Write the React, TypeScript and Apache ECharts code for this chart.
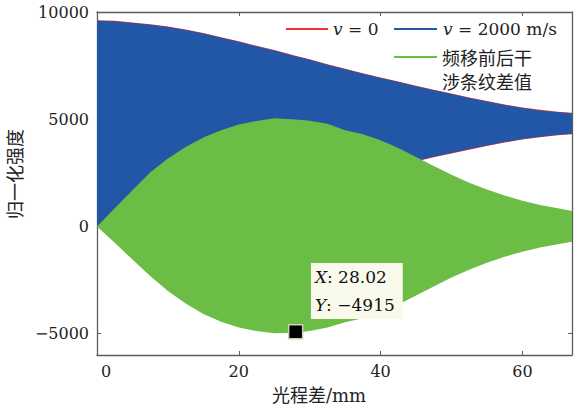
import React, { useEffect, useRef } from "react";
import * as echarts from "echarts";

// Optical path difference samples (mm)
const opd = [0, 2.5, 5, 7.5, 10, 12.5, 15, 17.5, 20, 22.5, 25, 28, 30, 32.5, 35, 37.5, 40, 42.5, 45, 47.5, 50, 52.5, 55, 57.5, 60, 62.5, 65, 67];

// Fringe envelopes, v = 0
const redUpper = [9619, 9595, 9515, 9425, 9325, 9185, 9025, 8825, 8635, 8425, 8225, 7965, 7795, 7565, 7355, 7145, 6945, 6755, 6565, 6375, 6195, 6015, 5845, 5685, 5545, 5435, 5345, 5300];
const redLower = [0, -1, 79, 169, 269, 409, 569, 769, 959, 1169, 1369, 1629, 1799, 2029, 2239, 2449, 2649, 2839, 3029, 3219, 3399, 3579, 3749, 3909, 4049, 4159, 4249, 4294];

// Fringe envelopes, v = 2000 m/s
const blueUpper = [9594, 9570, 9490, 9400, 9300, 9160, 9000, 8800, 8610, 8400, 8200, 7940, 7770, 7540, 7330, 7120, 6920, 6730, 6540, 6350, 6170, 5990, 5820, 5660, 5520, 5410, 5320, 5275];
const blueLower = [0, 24, 104, 194, 294, 434, 594, 794, 984, 1194, 1394, 1654, 1824, 2054, 2264, 2474, 2674, 2864, 3054, 3244, 3424, 3604, 3774, 3934, 4074, 4184, 4274, 4319];

// Envelope of the fringe difference before / after the frequency shift
const diffUpper = [0, 845, 1680, 2510, 3170, 3700, 4140, 4480, 4750, 4920, 5040, 4990, 4930, 4790, 4480, 4300, 4020, 3660, 3240, 2820, 2410, 2040, 1720, 1440, 1200, 1000, 840, 720];
const diffLower = [0, -761, -1550, -2320, -3010, -3600, -4090, -4450, -4720, -4880, -4980, -4960, -4880, -4720, -4470, -4280, -4000, -3640, -3220, -2800, -2390, -2020, -1700, -1420, -1180, -990, -830, -718];

// Data tip
const tipPoint = [28.02, -4915];

const xTicks = [0, 20, 40, 60];
const yTicks = [-5000, 0, 5000, 10000];

const RED = "#ee3030";
const BLUE = "#2256a6";
const GREEN = "#6cbd45";
const AXIS = "#5c5c5c";
const INK = "#222";
const SERIF = "'DejaVu Serif', 'Noto Sans CJK SC', serif";
const CJK = "'Noto Sans CJK SC', sans-serif";

// Filled band between a lower and an upper envelope, drawn as one polygon
function band(name: string, color: string, upper: number[], lower: number[], z: number) {
  return {
    type: "custom",
    name,
    silent: true,
    clip: true,
    z,
    data: opd.map((x, i) => [x, lower[i], upper[i]]),
    encode: { x: 0, y: [1, 2] },
    renderItem: (params: any, api: any) => {
      if (params.dataIndex !== 0) return null;
      const n = params.dataInsideLength;
      const top: number[][] = [];
      const bottom: number[][] = [];
      for (let j = 0; j < n; j++) {
        const x = api.value(0, j);
        top.push(api.coord([x, api.value(2, j)]));
        bottom.push(api.coord([x, api.value(1, j)]));
      }
      return {
        type: "polygon",
        shape: { points: top.concat(bottom.reverse()) },
        style: { fill: color },
      };
    },
  };
}

export default function App() {
  const ref = useRef<HTMLDivElement>(null);

  useEffect(() => {
    if (!ref.current) return;
    const chart = echarts.init(ref.current, undefined, { renderer: "svg" });

    const axisLine = { show: true, onZero: false, lineStyle: { color: AXIS, width: 1.3 } };
    const axisTick = { show: true, inside: true, length: 4, lineStyle: { color: AXIS, width: 1 } };
    const legendRich = {
      i: { fontFamily: SERIF, fontStyle: "italic", fontSize: 17, fill: INK },
      n: { fontFamily: SERIF, fontSize: 17, fill: INK },
    };

    const option: any = {
      animation: false,
      backgroundColor: "#ffffff",
      grid: { left: 97, right: 9, top: 12, bottom: 55, outerBoundsMode: "none" },
      xAxis: [
        {
          type: "value",
          min: 0,
          max: 67,
          position: "bottom",
          axisLine,
          axisTick: { ...axisTick, customValues: xTicks },
          splitLine: { show: false },
          axisLabel: {
            customValues: xTicks,
            margin: 8,
            fontFamily: SERIF,
            fontSize: 16,
            color: INK,
            formatter: (v: number) => (v === 0 ? "{z|0}" : String(v)),
            rich: { z: { fontFamily: SERIF, fontSize: 16, color: INK, padding: [0, 0, 0, 18] } },
          },
        },
        {
          type: "value",
          min: 0,
          max: 67,
          position: "top",
          axisLine,
          axisTick: { ...axisTick, customValues: xTicks },
          splitLine: { show: false },
          axisLabel: { show: false },
        },
      ],
      yAxis: [
        {
          type: "value",
          min: -6000,
          max: 10000,
          position: "left",
          axisLine,
          axisTick: { ...axisTick, customValues: yTicks },
          splitLine: { show: false },
          axisLabel: {
            customValues: yTicks,
            margin: 8,
            fontFamily: SERIF,
            fontSize: 16,
            color: INK,
            formatter: (v: number) => (v < 0 ? "\u2212" + Math.abs(v) : String(v)),
          },
        },
        {
          type: "value",
          min: -6000,
          max: 10000,
          position: "right",
          axisLine,
          axisTick: { ...axisTick, customValues: yTicks },
          splitLine: { show: false },
          axisLabel: { show: false },
        },
      ],
      series: [
        band("red", RED, redUpper, redLower, 1),
        band("blue", BLUE, blueUpper, blueLower, 2),
        band("green", GREEN, diffUpper, diffLower, 3),
        {
          type: "scatter",
          name: "tip",
          data: [tipPoint],
          symbol: "rect",
          symbolSize: 14,
          itemStyle: { color: "#000", borderColor: "#cfcfb8", borderWidth: 1.5, opacity: 1 },
          emphasis: { disabled: true },
          z: 10,
          label: {
            show: true,
            position: [23, -61],
            align: "left",
            verticalAlign: "top",
            backgroundColor: "#fafaec",
            opacity: 1,
            padding: [0, 8, 0, 4],
            formatter: (p: any) =>
              "{i|X}{n|: " + p.value[0].toFixed(2) + "}\n{i|Y}{n|: \u2212" + Math.abs(p.value[1]) + "}",
            rich: {
              i: { fontFamily: SERIF, fontStyle: "italic", fontSize: 17, color: "#111", lineHeight: 28 },
              n: { fontFamily: SERIF, fontSize: 17, color: "#111", lineHeight: 28 },
            },
          },
        },
      ],
      graphic: [
        // legend
        { type: "line", z: 100, shape: { x1: 286, y1: 29, x2: 328, y2: 29 }, style: { stroke: RED, lineWidth: 2 } },
        {
          type: "text",
          z: 100,
          x: 333,
          y: 29,
          style: { text: "{i|v}{n| = 0}", verticalAlign: "middle", rich: legendRich },
        },
        { type: "line", z: 100, shape: { x1: 394, y1: 29, x2: 437, y2: 29 }, style: { stroke: BLUE, lineWidth: 2 } },
        {
          type: "text",
          z: 100,
          x: 443,
          y: 29,
          style: { text: "{i|v}{n| = 2000 m/s}", verticalAlign: "middle", rich: legendRich },
        },
        { type: "line", z: 100, shape: { x1: 394, y1: 57, x2: 437, y2: 57 }, style: { stroke: GREEN, lineWidth: 2 } },
        {
          type: "text",
          z: 100,
          x: 442,
          y: 45,
          style: {
            text: "频移前后干\n涉条纹差值",
            font: "18px " + CJK,
            lineHeight: 24,
            fill: INK,
            verticalAlign: "top",
          },
        },
        // axis titles
        {
          type: "text",
          z: 100,
          x: 14,
          y: 174,
          rotation: Math.PI / 2,
          style: { text: "归一化强度", font: "18px " + CJK, fill: INK, align: "center", verticalAlign: "middle" },
        },
        {
          type: "text",
          z: 100,
          x: 319,
          y: 395,
          style: { text: "光程差/mm", font: "18px " + SERIF, fill: INK, align: "center", verticalAlign: "middle" },
        },
      ],
    };

    chart.setOption(option);
    return () => chart.dispose();
  }, []);

  return (
    <div
      ref={ref}
      style={{ position: "fixed", left: 0, top: 0, width: 581, height: 410, background: "#fff" }}
    />
  );
}
